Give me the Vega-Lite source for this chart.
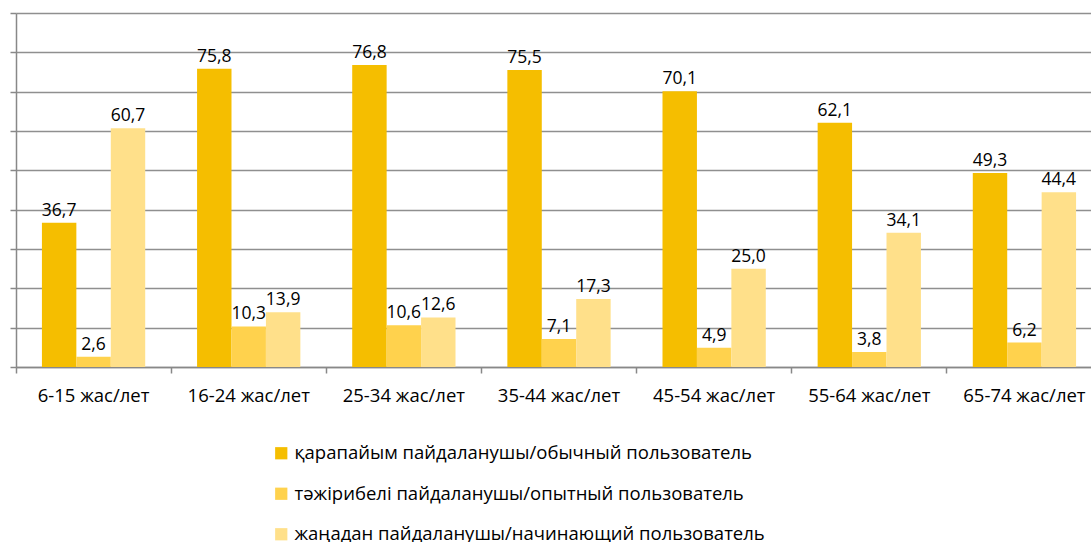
{
  "$schema": "https://vega.github.io/schema/vega-lite/v6.json",
  "width": 1075,
  "height": 354,
  "autosize": {"type": "none"},
  "padding": {"left": 16, "top": 13, "right": 0, "bottom": 175},
  "background": "white",
  "config": {
    "locale": {"number": {"decimal": ",", "thousands": " ", "grouping": [3], "currency": ["", ""]}},
    "view": {"stroke": null},
    "font": "Open Sans"
  },
  "data": {
    "values": [
      {"age": "6-15 жас/лет", "type": "қарапайым пайдаланушы/обычный пользователь", "value": 36.7},
      {"age": "6-15 жас/лет", "type": "тәжірибелі пайдаланушы/опытный  пользователь", "value": 2.6},
      {"age": "6-15 жас/лет", "type": "жаңадан пайдаланушы/начинающий пользователь", "value": 60.7},
      {"age": "16-24 жас/лет", "type": "қарапайым пайдаланушы/обычный пользователь", "value": 75.8},
      {"age": "16-24 жас/лет", "type": "тәжірибелі пайдаланушы/опытный  пользователь", "value": 10.3},
      {"age": "16-24 жас/лет", "type": "жаңадан пайдаланушы/начинающий пользователь", "value": 13.9},
      {"age": "25-34 жас/лет", "type": "қарапайым пайдаланушы/обычный пользователь", "value": 76.8},
      {"age": "25-34 жас/лет", "type": "тәжірибелі пайдаланушы/опытный  пользователь", "value": 10.6},
      {"age": "25-34 жас/лет", "type": "жаңадан пайдаланушы/начинающий пользователь", "value": 12.6},
      {"age": "35-44 жас/лет", "type": "қарапайым пайдаланушы/обычный пользователь", "value": 75.5},
      {"age": "35-44 жас/лет", "type": "тәжірибелі пайдаланушы/опытный  пользователь", "value": 7.1},
      {"age": "35-44 жас/лет", "type": "жаңадан пайдаланушы/начинающий пользователь", "value": 17.3},
      {"age": "45-54 жас/лет", "type": "қарапайым пайдаланушы/обычный пользователь", "value": 70.1},
      {"age": "45-54 жас/лет", "type": "тәжірибелі пайдаланушы/опытный  пользователь", "value": 4.9},
      {"age": "45-54 жас/лет", "type": "жаңадан пайдаланушы/начинающий пользователь", "value": 25.0},
      {"age": "55-64 жас/лет", "type": "қарапайым пайдаланушы/обычный пользователь", "value": 62.1},
      {"age": "55-64 жас/лет", "type": "тәжірибелі пайдаланушы/опытный  пользователь", "value": 3.8},
      {"age": "55-64 жас/лет", "type": "жаңадан пайдаланушы/начинающий пользователь", "value": 34.1},
      {"age": "65-74 жас/лет", "type": "қарапайым пайдаланушы/обычный пользователь", "value": 49.3},
      {"age": "65-74 жас/лет", "type": "тәжірибелі пайдаланушы/опытный  пользователь", "value": 6.2},
      {"age": "65-74 жас/лет", "type": "жаңадан пайдаланушы/начинающий пользователь", "value": 44.4}
    ]
  },
  "encoding": {
    "x": {
      "field": "age", "type": "nominal", "sort": null, "title": null,
      "scale": {"paddingInner": 0, "paddingOuter": 0, "range": [0, 1086]},
      "axis": {
        "bandPosition": 0, "labelAngle": 0, "labelFontSize": 18.5, "labelColor": "#000000",
        "labelPadding": 13, "tickSize": 6, "tickColor": "#888888", "tickWidth": 1.5,
        "domainColor": "#888888", "domainWidth": 1.5, "grid": false, "labelFont": "Open Sans"
      }
    },
    "xOffset": {
      "field": "type", "type": "nominal", "sort": null,
      "scale": {"paddingInner": 0, "paddingOuter": 0.753}
    },
    "y": {
      "field": "value", "type": "quantitative", "title": null,
      "scale": {"domain": [0, 90], "nice": false},
      "axis": {
        "values": [0, 10, 20, 30, 40, 50, 60, 70, 80, 90],
        "labels": false, "tickSize": 6, "tickColor": "#888888", "tickWidth": 1.5,
        "domainColor": "#888888", "domainWidth": 1.5,
        "grid": true, "gridColor": "#8f8f8f", "gridWidth": 1.5
      }
    }
  },
  "layer": [
    {
      "mark": {"type": "bar"},
      "encoding": {
        "color": {
          "field": "type", "type": "nominal", "sort": null, "title": null,
          "scale": {"range": ["#F5BE00", "#FFD24D", "#FFE08A"]},
          "legend": {
            "orient": "none", "legendX": 256, "legendY": 431, "direction": "vertical",
            "symbolType": "square", "symbolSize": 150, "symbolStrokeWidth": 0,
            "labelFontSize": 18.5, "labelColor": "#000000", "labelFont": "Open Sans",
            "rowPadding": 21.5, "labelOffset": 4, "labelLimit": 800
          }
        }
      }
    },
    {
      "mark": {"type": "text", "baseline": "alphabetic", "dy": -7, "fontSize": 17.5, "color": "#000000", "font": "Open Sans"},
      "encoding": {
        "text": {"field": "value", "type": "quantitative", "format": ".1f"}
      }
    }
  ]
}
